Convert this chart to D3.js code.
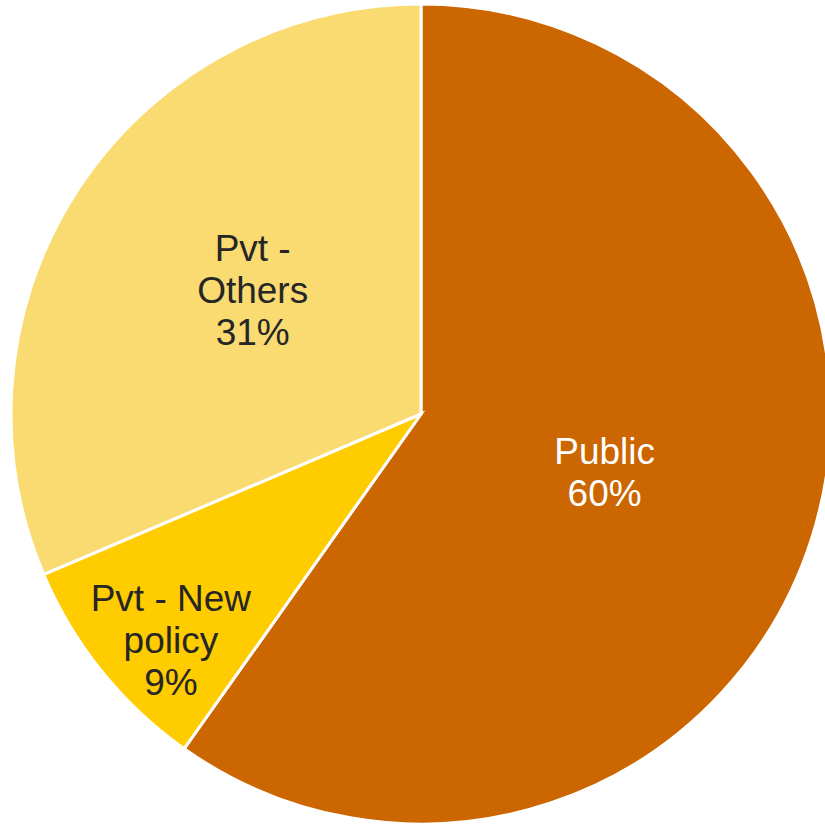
<!DOCTYPE html>
<html>
<head>
<meta charset="utf-8">
<script src="https://cdn.jsdelivr.net/npm/d3@7/dist/d3.min.js"></script>
<style>
  html, body { margin: 0; padding: 0; background: #ffffff; }
  svg { display: block; }
  text { font-family: "Liberation Sans", Arial, sans-serif; }
</style>
</head>
<body>
<script>
// Share of schools by management type
const categories = ["Public", "Pvt - New policy", "Pvt - Others"];
const shares = [59.8, 8.8, 31.4];
const labelLines = [["Public"], ["Pvt - New", "policy"], ["Pvt -", "Others"]];
const colors = ["#CC6600", "#FFCC00", "#F9DB72"];
const textColors = ["#FFFFFF", "#262626", "#262626"];

const width = 825, height = 827;
const cx = 421, cy = 414, radius = 410;
// label distance from centre, as a fraction of the radius, per slice
const labelRadius = [0.47, 0.822, 0.51];
const labelAngleShift = [0, -3.2, 2.9]; // degrees

const svg = d3.select("body").append("svg")
  .attr("width", width).attr("height", height);

const g = svg.append("g").attr("transform", `translate(${cx},${cy})`);

const data = categories.map((c, i) => ({ name: c, value: shares[i], i }));

const pie = d3.pie().value(d => d.value).sort(null);
const arc = d3.arc().innerRadius(0).outerRadius(radius);
const arcs = pie(data);

g.selectAll("path.slice")
  .data(arcs)
  .join("path")
  .attr("class", "slice")
  .attr("d", arc)
  .attr("fill", d => colors[d.data.i])
  .attr("stroke", "#ffffff")
  .attr("stroke-width", 3)
  .attr("stroke-linejoin", "miter");

const fontSize = 37, lineH = 42;

arcs.forEach(d => {
  const i = d.data.i;
  const mid = (d.startAngle + d.endAngle) / 2 + labelAngleShift[i] * Math.PI / 180;
  const rr = radius * labelRadius[i];
  const x = rr * Math.sin(mid), y = -rr * Math.cos(mid);
  const lines = labelLines[i].concat([Math.round(d.data.value) + "%"]);
  const t = g.append("text")
    .attr("text-anchor", "middle")
    .attr("font-size", fontSize)
    .attr("fill", textColors[i]);
  lines.forEach((ln, k) => {
    t.append("tspan")
      .attr("x", x)
      .attr("y", y + (k - (lines.length - 1) / 2) * lineH)
      .attr("dy", "0.35em")
      .text(ln);
  });
});
</script>
</body>
</html>
